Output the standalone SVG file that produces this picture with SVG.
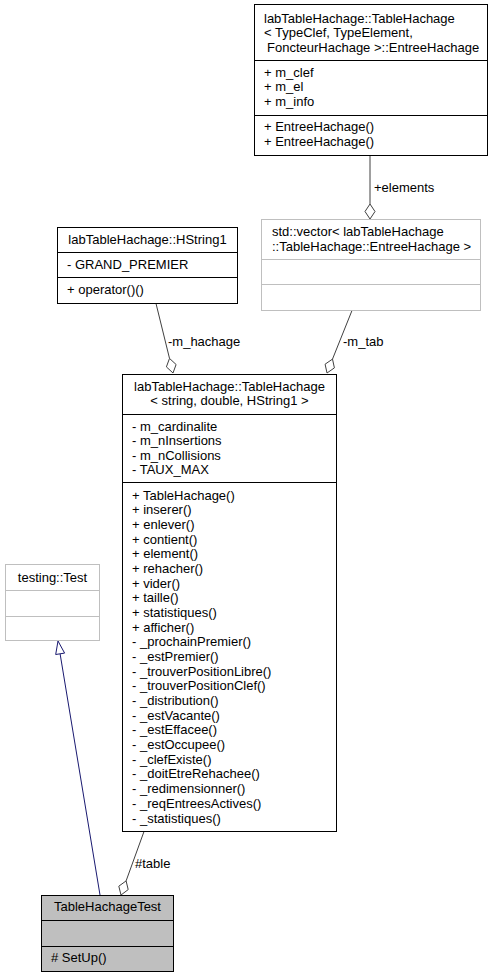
<svg xmlns="http://www.w3.org/2000/svg" width="493" height="977" viewBox="0 0 493 977">
<style>
text{font-family:"Liberation Sans",Arial,Helvetica,sans-serif;font-size:13px;fill:#000}
.c{text-anchor:middle}
.box{fill:#fff;stroke:#000;stroke-width:1}
.gbox{fill:#fff;stroke:#bfbfbf;stroke-width:1}
.tbox{fill:#bfbfbf;stroke:#000;stroke-width:1}
.sep{stroke:#000;stroke-width:1}
.gsep{stroke:#bfbfbf;stroke-width:1}
.edge{fill:none;stroke:#404040;stroke-width:1}
.dia{fill:#fff;stroke:#404040;stroke-width:1}
.inh{fill:none;stroke:#191970;stroke-width:1}
.tri{fill:#fff;stroke:#191970;stroke-width:1}
</style>
<rect width="493" height="977" fill="#fff"/>
<g id="connectors">
<line class="edge" x1="370" y1="155.5" x2="370" y2="204"/>
<polygon class="dia" points="370,219 375,211.5 370,204 365,211.5"/>
<text x="374" y="191.5">+elements</text>
<line class="edge" x1="156" y1="303.5" x2="169.5" y2="358.4"/>
<polygon class="dia" points="173,373 176.1,364.5 169.5,358.4 166.4,366.9"/>
<text x="168" y="345.5">-m_hachage</text>
<line class="edge" x1="352" y1="310.5" x2="332.5" y2="359.1"/>
<polygon class="dia" points="327,373 334.4,367.9 332.5,359.1 325.1,364.2"/>
<text x="343" y="345.5">-m_tab</text>
<line class="edge" x1="144" y1="831.5" x2="126.1" y2="880.9"/>
<polygon class="dia" points="121,895 128.2,889.6 126.1,880.9 118.8,886.2"/>
<text x="135" y="867.5">#table</text>
<line class="inh" x1="100" y1="895" x2="60.1" y2="653.8"/>
<polygon class="tri" points="58,641 64.6,653.1 55.7,654.5"/>
</g>
<g id="node-entree">
<rect class="box" x="254.5" y="4.5" width="233" height="151"/>
<line class="sep" x1="254.5" y1="60.5" x2="487.5" y2="60.5"/>
<line class="sep" x1="254.5" y1="115.5" x2="487.5" y2="115.5"/>
<text x="264" y="22.5">labTableHachage::TableHachage</text>
<text x="264" y="37">&lt; TypeClef, TypeElement,</text>
<text x="267" y="51.5">FoncteurHachage &gt;::EntreeHachage</text>
<text x="264" y="76.5">+ m_clef</text>
<text x="264" y="91">+ m_el</text>
<text x="264" y="105.5">+ m_info</text>
<text x="264" y="131">+ EntreeHachage()</text>
<text x="264" y="146">+ EntreeHachage()</text>
</g>
<g id="node-vector">
<rect class="gbox" x="261.5" y="219.5" width="219" height="91"/>
<line class="gsep" x1="261.5" y1="259.5" x2="480.5" y2="259.5"/>
<line class="gsep" x1="261.5" y1="284.5" x2="480.5" y2="284.5"/>
<text x="272" y="235.5">std::vector&lt; labTableHachage</text>
<text x="272" y="250.5">::TableHachage::EntreeHachage &gt;</text>
</g>
<g id="node-hstring">
<rect class="box" x="57.5" y="227.5" width="180" height="76"/>
<line class="sep" x1="57.5" y1="252.5" x2="237.5" y2="252.5"/>
<line class="sep" x1="57.5" y1="277.5" x2="237.5" y2="277.5"/>
<text class="c" x="147.5" y="243.5">labTableHachage::HString1</text>
<text x="67" y="268.5">- GRAND_PREMIER</text>
<text x="67" y="293.5">+ operator()()</text>
</g>
<g id="node-table">
<rect class="box" x="122.5" y="374.5" width="214" height="457"/>
<line class="sep" x1="122.5" y1="414.5" x2="336.5" y2="414.5"/>
<line class="sep" x1="122.5" y1="482.5" x2="336.5" y2="482.5"/>
<text class="c" x="229.5" y="390.5">labTableHachage::TableHachage</text>
<text class="c" x="229.5" y="404.5">&lt; string, double, HString1 &gt;</text>
<text x="132" y="430.5">- m_cardinalite</text>
<text x="132" y="445">- m_nInsertions</text>
<text x="132" y="459.5">- m_nCollisions</text>
<text x="132" y="474">- TAUX_MAX</text>
<text x="132" y="499.5">+ TableHachage()</text>
<text x="132" y="514.2">+ inserer()</text>
<text x="132" y="528.9">+ enlever()</text>
<text x="132" y="543.5">+ contient()</text>
<text x="132" y="558.2">+ element()</text>
<text x="132" y="572.9">+ rehacher()</text>
<text x="132" y="587.6">+ vider()</text>
<text x="132" y="602.3">+ taille()</text>
<text x="132" y="616.9">+ statistiques()</text>
<text x="132" y="631.6">+ afficher()</text>
<text x="132" y="646.3">- _prochainPremier()</text>
<text x="132" y="661">- _estPremier()</text>
<text x="132" y="675.7">- _trouverPositionLibre()</text>
<text x="132" y="690.3">- _trouverPositionClef()</text>
<text x="132" y="705">- _distribution()</text>
<text x="132" y="719.7">- _estVacante()</text>
<text x="132" y="734.4">- _estEffacee()</text>
<text x="132" y="749.1">- _estOccupee()</text>
<text x="132" y="763.7">- _clefExiste()</text>
<text x="132" y="778.4">- _doitEtreRehachee()</text>
<text x="132" y="793.1">- _redimensionner()</text>
<text x="132" y="807.8">- _reqEntreesActives()</text>
<text x="132" y="822.5">- _statistiques()</text>
</g>
<g id="node-testing">
<rect class="gbox" x="5.5" y="564.5" width="94" height="76"/>
<line class="gsep" x1="5.5" y1="590.5" x2="99.5" y2="590.5"/>
<line class="gsep" x1="5.5" y1="616.5" x2="99.5" y2="616.5"/>
<text class="c" x="52.5" y="581.5">testing::Test</text>
</g>
<g id="node-test">
<rect class="tbox" x="41.5" y="895.5" width="132" height="76"/>
<line class="sep" x1="41.5" y1="920.5" x2="173.5" y2="920.5"/>
<line class="sep" x1="41.5" y1="946.5" x2="173.5" y2="946.5"/>
<text class="c" x="107.5" y="911">TableHachageTest</text>
<text x="51" y="961.5"># SetUp()</text>
</g>
</svg>
